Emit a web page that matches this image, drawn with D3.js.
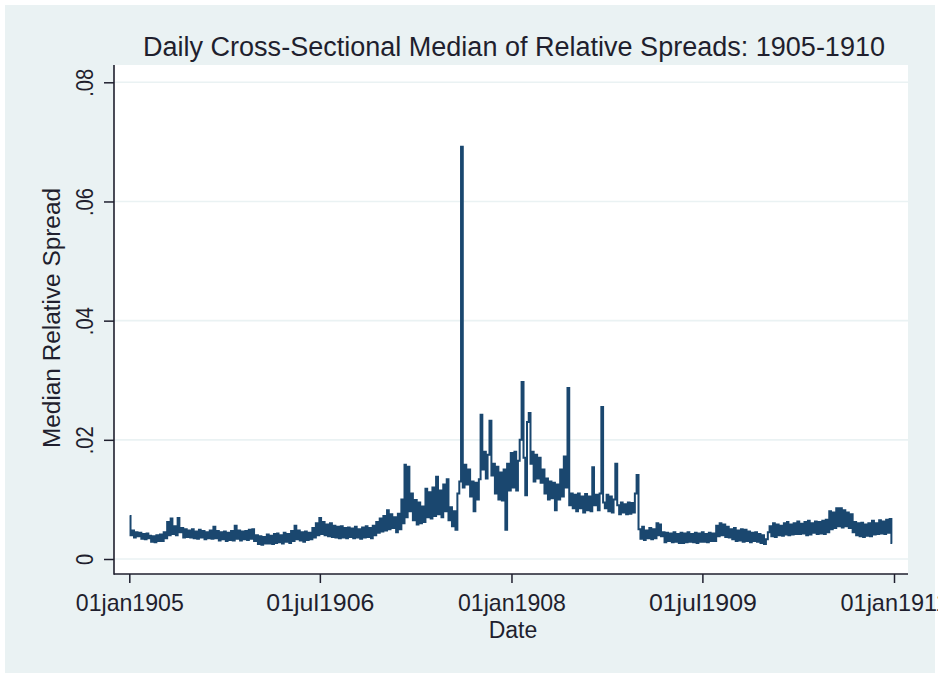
<!DOCTYPE html>
<html><head><meta charset="utf-8">
<script src="https://cdn.jsdelivr.net/npm/d3@7"></script>
<style>html,body{margin:0;padding:0;background:#fff}svg{display:block}text{font-family:Arial,"Liberation Sans",sans-serif}</style>
</head><body>
<svg id="c" width="938" height="677"></svg>
<script>
const titleText = "Daily Cross-Sectional Median of Relative Spreads: 1905-1910";
const xTitle = "Date";
const yTitle = "Median Relative Spread";
const yTicks = [0, .02, .04, .06, .08];
const yTickLabels = ["0", ".02", ".04", ".06", ".08"];
const xTickDates = [new Date(1905,0,1), new Date(1906,6,1), new Date(1908,0,1), new Date(1909,6,1), new Date(1911,0,1)];
const xTickLabels = ["01jan1905", "01jul1906", "01jan1908", "01jul1909", "01jan1911"];
// sample days within each month (6 readings per month)
const sampleDays = [2, 7, 12, 17, 22, 27];
// median relative spread, 6 readings per month
const spread1905 = [
.0072,.0040,.0048,.0036,.0045,.0038, .0044,.0034,.0042,.0033,.0043,.0035, .0039,.0029,.0038,.0028,.0040,.0030,
.0041,.0030,.0045,.0035,.0062,.0040, .0068,.0042,.0055,.0040,.0069,.0045, .0052,.0036,.0050,.0037,.0048,.0036,
.0050,.0035,.0046,.0034,.0049,.0036, .0047,.0033,.0045,.0035,.0048,.0034, .0054,.0035,.0047,.0031,.0045,.0033,
.0046,.0030,.0044,.0032,.0047,.0031, .0056,.0034,.0048,.0031,.0046,.0033, .0047,.0032,.0049,.0034,.0050,.0030];
const spread1906 = [
.0040,.0025,.0038,.0024,.0037,.0026, .0041,.0026,.0039,.0025,.0042,.0027, .0043,.0028,.0040,.0026,.0044,.0029,
.0042,.0027,.0047,.0030,.0056,.0033, .0048,.0031,.0045,.0029,.0046,.0032, .0044,.0033,.0052,.0036,.0060,.0040,
.0069,.0042,.0062,.0040,.0058,.0038, .0060,.0037,.0056,.0036,.0054,.0035, .0055,.0036,.0052,.0035,.0053,.0037,
.0051,.0035,.0054,.0036,.0050,.0034, .0053,.0036,.0055,.0037,.0052,.0035, .0056,.0040,.0062,.0044,.0068,.0046];
const spread1907 = [
.0072,.0048,.0082,.0050,.0075,.0052, .0070,.0045,.0076,.0050,.0100,.0060, .0158,.0070,.0155,.0080,.0110,.0065,
.0099,.0058,.0095,.0060,.0088,.0062, .0118,.0070,.0112,.0068,.0120,.0072, .0138,.0075,.0115,.0070,.0125,.0080,
.0134,.0065,.0087,.0055,.0080,.0049, .0110,.0130,.0692,.0120,.0158,.0125, .0150,.0105,.0130,.0080,.0128,.0100,
.0134,.0242,.0150,.0180,.0135,.0175, .0232,.0140,.0160,.0110,.0155,.0100, .0145,.0098,.0150,.0049,.0160,.0115];
const spread1908 = [
.0178,.0120,.0180,.0115,.0165,.0200, .0297,.0170,.0107,.0230,.0245,.0160, .0180,.0130,.0175,.0135,.0170,.0128,
.0150,.0110,.0135,.0100,.0130,.0102, .0128,.0082,.0125,.0100,.0150,.0105, .0172,.0120,.0287,.0090,.0110,.0085,
.0108,.0080,.0110,.0085,.0105,.0078, .0109,.0082,.0105,.0080,.0154,.0090, .0108,.0082,.0110,.0255,.0095,.0085,
.0108,.0080,.0105,.0078,.0100,.0160, .0090,.0075,.0095,.0078,.0092,.0075, .0095,.0076,.0094,.0078,.0110,.0141];
const spread1909 = [
.0050,.0034,.0054,.0032,.0048,.0035, .0052,.0033,.0050,.0035,.0060,.0040, .0058,.0038,.0045,.0028,.0044,.0030,
.0043,.0028,.0045,.0029,.0042,.0027, .0044,.0027,.0043,.0028,.0045,.0029, .0042,.0028,.0044,.0027,.0043,.0029,
.0045,.0029,.0042,.0028,.0044,.0030, .0043,.0030,.0056,.0038,.0060,.0040, .0058,.0037,.0054,.0036,.0050,.0033,
.0052,.0030,.0048,.0031,.0050,.0029, .0049,.0030,.0046,.0028,.0044,.0030, .0045,.0029,.0042,.0027,.0040,.0025];
const spread1910 = [
.0033,.0045,.0055,.0038,.0060,.0037, .0058,.0040,.0056,.0039,.0060,.0041, .0062,.0040,.0058,.0041,.0060,.0042,
.0063,.0042,.0059,.0043,.0062,.0040, .0064,.0041,.0060,.0044,.0063,.0042, .0062,.0043,.0064,.0042,.0066,.0045,
.0080,.0050,.0078,.0052,.0085,.0055, .0085,.0053,.0082,.0055,.0078,.0052, .0075,.0045,.0062,.0040,.0060,.0038,
.0061,.0037,.0058,.0039,.0060,.0038, .0064,.0041,.0060,.0042,.0065,.0043, .0063,.0042,.0066,.0044,.0067,.0027];
const years = [1905, 1906, 1907, 1908, 1909, 1910];
const spreadByYear = [spread1905, spread1906, spread1907, spread1908, spread1909, spread1910];

const data = [];
spreadByYear.forEach((arr, yi) => {
  arr.forEach((v, k) => {
    const m = Math.floor(k / sampleDays.length), j = k % sampleDays.length;
    data.push({date: new Date(years[yi], m, sampleDays[j]), value: v});
  });
});

const svg = d3.select("#c");
const bg = "#eaf2f3", ink = "#1f1f2e", navy = "#1a476f";
const plot = {left: 114, right: 908, top: 65, bottom: 574};

svg.append("rect").attr("x", 5).attr("y", 5).attr("width", 930).attr("height", 668).attr("fill", bg);
svg.append("rect").attr("x", plot.left).attr("y", plot.top).attr("width", plot.right - plot.left)
  .attr("height", plot.bottom - plot.top).attr("fill", "#fff");

const x = d3.scaleTime().domain([xTickDates[0], xTickDates[xTickDates.length - 1]]).range([129.3, 894]);
const y = d3.scaleLinear().domain([0, .08]).range([559, 82.3]);

// gridlines
svg.append("g").selectAll("line").data(yTicks).join("line")
  .attr("x1", plot.left).attr("x2", plot.right)
  .attr("y1", d => y(d)).attr("y2", d => y(d))
  .attr("stroke", bg).attr("stroke-width", 1.6);

// line
const line = d3.line().x(d => x(d.date)).y(d => y(d.value)).curve(d3.curveStep);
svg.append("path").datum(data).attr("d", line)
  .attr("fill", "none").attr("stroke", navy).attr("stroke-width", 2).attr("stroke-linejoin", "miter");

// y axis
const yAxis = d3.axisLeft(y).tickValues(yTicks).tickSize(10).tickFormat((d, i) => yTickLabels[i]);
const gy = svg.append("g").attr("transform", `translate(${plot.left},0)`).call(yAxis);
gy.select(".domain").remove();
gy.selectAll(".tick line").attr("stroke", ink).attr("stroke-width", 1.5);
gy.selectAll(".tick text")
  .attr("x", null).attr("dy", null)
  .attr("transform", "translate(-21,0) rotate(-90)")
  .attr("text-anchor", "middle").attr("fill", ink)
  .style("font-size", "24px")
  .each(function () { const w = this.getComputedTextLength(); d3.select(this).attr("textLength", w * 0.84).attr("lengthAdjust", "spacingAndGlyphs"); });

// x axis
const xAxis = d3.axisBottom(x).tickValues(xTickDates).tickSize(9).tickFormat((d, i) => xTickLabels[i]);
const gx = svg.append("g").attr("transform", `translate(0,${plot.bottom})`).call(xAxis);
gx.select(".domain").remove();
gx.selectAll(".tick line").attr("stroke", ink).attr("stroke-width", 1.5);
gx.selectAll(".tick text").attr("y", 37).attr("dy", null).attr("fill", ink)
  .style("font-size", "24px")
  .each(function () { d3.select(this).attr("textLength", 108).attr("lengthAdjust", "spacingAndGlyphs"); });

// axis lines
svg.append("line").attr("x1", plot.left).attr("x2", plot.left).attr("y1", plot.top).attr("y2", plot.bottom + 0.75)
  .attr("stroke", ink).attr("stroke-width", 1.6);
svg.append("line").attr("x1", plot.left).attr("x2", plot.right).attr("y1", plot.bottom).attr("y2", plot.bottom)
  .attr("stroke", ink).attr("stroke-width", 1.6);

// titles
svg.append("text").attr("x", 514).attr("y", 56).attr("text-anchor", "middle").attr("fill", ink)
  .style("font-size", "27px").text(titleText)
  .attr("textLength", 742).attr("lengthAdjust", "spacingAndGlyphs");
svg.append("text").attr("x", 513).attr("y", 638).attr("text-anchor", "middle").attr("fill", ink)
  .style("font-size", "23px").text(xTitle);
svg.append("text").attr("transform", "translate(60,318) rotate(-90)").attr("text-anchor", "middle").attr("fill", ink)
  .style("font-size", "23px").text(yTitle)
  .attr("textLength", 260).attr("lengthAdjust", "spacingAndGlyphs");
</script>
</body></html>
